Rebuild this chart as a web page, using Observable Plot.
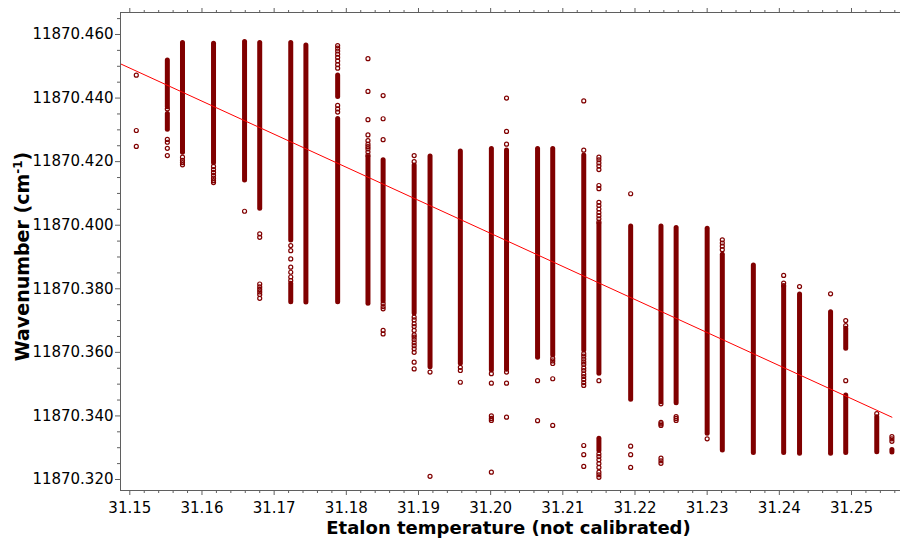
<!DOCTYPE html>
<html><head><meta charset="utf-8">
<script src="https://cdn.jsdelivr.net/npm/d3@7"></script>
<script src="https://cdn.jsdelivr.net/npm/@observablehq/plot@0.6"></script>
<style>body{margin:0;background:#fff}</style>
</head><body><div id="chart"></div>
<script>
// Etalon temperature values of the measurement columns
const temps = [31.1509, 31.1552, 31.1573, 31.1616, 31.1659, 31.1680, 31.1723, 31.1744,
  31.1788, 31.1830, 31.1851, 31.1894, 31.1916, 31.1958, 31.2001, 31.2022,
  31.2065, 31.2086, 31.2129, 31.2150, 31.2194, 31.2236, 31.2257, 31.2300,
  31.2321, 31.2364, 31.2406, 31.2428, 31.2471, 31.2492, 31.2535, 31.2556];

// Dense runs of points (column index, low wavenumber, high wavenumber)
const bandIdx = [1, 1, 2, 3, 4, 5, 6, 6, 7, 8, 8, 9, 10, 11, 12, 13, 14, 15, 16, 17, 18, 19, 19,
  20, 21, 22, 23, 24, 25, 26, 27, 28, 29, 29, 30, 31];
const bandLo = [11870.4371, 11870.4300, 11870.4228, 11870.4195, 11870.4141, 11870.4052, 11870.3952, 11870.3758,
  11870.3757, 11870.4403, 11870.3758, 11870.3753, 11870.3760, 11870.3722, 11870.3553, 11870.3564,
  11870.3543, 11870.3545, 11870.3583, 11870.3590, 11870.3606, 11870.3533, 11870.3290,
  11870.3451, 11870.3443, 11870.3440, 11870.3344, 11870.3291, 11870.3283, 11870.3283, 11870.3281,
  11870.3281, 11870.3611, 11870.3283, 11870.3286, 11870.3285];
const bandHi = [11870.4518, 11870.4350, 11870.4573, 11870.4571, 11870.4576, 11870.4573, 11870.4573, 11870.3816,
  11870.4565, 11870.4471, 11870.4334, 11870.4214, 11870.4204, 11870.4188, 11870.4216, 11870.4232,
  11870.4240, 11870.4235, 11870.4240, 11870.4240, 11870.4219, 11870.4004, 11870.3328,
  11870.3996, 11870.3996, 11870.3991, 11870.3989, 11870.3907, 11870.3873, 11870.3805, 11870.3782,
  11870.3726, 11870.3674, 11870.3464, 11870.3396, 11870.3293];

// Isolated points (column index, wavenumbers)
const isolated = [
  [0, [11870.4472, 11870.4298, 11870.4248]],
  [1, [11870.4366, 11870.4270, 11870.4261, 11870.4242, 11870.4219]],
  [2, [11870.4214, 11870.4204, 11870.4197, 11870.4190]],
  [3, [11870.4185, 11870.4175, 11870.4166, 11870.4157, 11870.4148, 11870.4140, 11870.4134]],
  [4, [11870.4044]],
  [5, [11870.3973, 11870.3962, 11870.3815, 11870.3806, 11870.3798, 11870.3790, 11870.3782, 11870.3770]],
  [6, [11870.3936, 11870.3920, 11870.3894, 11870.3868, 11870.3852, 11870.3837, 11870.3826]],
  [8, [11870.4565, 11870.4557, 11870.4548, 11870.4538, 11870.4528, 11870.4517, 11870.4505, 11870.4494, 11870.4377, 11870.4366, 11870.4356]],
  [9, [11870.4524, 11870.4421, 11870.4332, 11870.4284, 11870.4266, 11870.4255, 11870.4247, 11870.4240, 11870.4230, 11870.4220]],
  [10, [11870.4408, 11870.4335, 11870.4269, 11870.3753, 11870.3744, 11870.3737, 11870.3669, 11870.3658]],
  [11, [11870.4219, 11870.4200, 11870.3711, 11870.3702, 11870.3690, 11870.3681, 11870.3669, 11870.3655, 11870.3648, 11870.3640, 11870.3630, 11870.3621, 11870.3611, 11870.3600, 11870.3569, 11870.3548]],
  [12, [11870.3538, 11870.3210]],
  [13, [11870.3553, 11870.3543, 11870.3506]],
  [14, [11870.3533, 11870.3503, 11870.3400, 11870.3392, 11870.3386, 11870.3223]],
  [15, [11870.4400, 11870.4295, 11870.4255, 11870.3538, 11870.3503, 11870.3396]],
  [16, [11870.3511, 11870.3385]],
  [17, [11870.3581, 11870.3573, 11870.3565, 11870.3517, 11870.3370]],
  [18, [11870.4391, 11870.4236, 11870.3596, 11870.3588, 11870.3579, 11870.3570, 11870.3562, 11870.3551, 11870.3543, 11870.3532, 11870.3524, 11870.3515, 11870.3505, 11870.3496, 11870.3307, 11870.3278, 11870.3241]],
  [19, [11870.4214, 11870.4206, 11870.4196, 11870.4186, 11870.4175, 11870.4125, 11870.4115, 11870.4072, 11870.4062, 11870.4051, 11870.4040, 11870.4030, 11870.4020, 11870.4010, 11870.3511, 11870.3281, 11870.3272, 11870.3262, 11870.3250, 11870.3238, 11870.3223, 11870.3215, 11870.3207]],
  [20, [11870.4099, 11870.3305, 11870.3278, 11870.3238]],
  [21, [11870.3438, 11870.3380, 11870.3375, 11870.3370, 11870.3267, 11870.3259, 11870.3251]],
  [22, [11870.3398, 11870.3392, 11870.3386]],
  [23, [11870.3328]],
  [24, [11870.3954, 11870.3944, 11870.3934, 11870.3923]],
  [26, [11870.3842, 11870.3818, 11870.3810]],
  [27, [11870.3807]],
  [28, [11870.3784]],
  [29, [11870.3700, 11870.3684, 11870.3511]],
  [30, [11870.3407]],
  [31, [11870.3335, 11870.3328, 11870.3320]]
];

// Linear fit line endpoints
const fitTemp = [31.1487, 31.2556];
const fitWave = [11870.45078, 11870.3396];

// Axes
const xDomain = [31.14871, 31.25679];
const yDomain = [11870.31654, 11870.46692];
const xMajor = [31.15, 31.16, 31.17, 31.18, 31.19, 31.20, 31.21, 31.22, 31.23, 31.24, 31.25];
const xMinor = [31.152, 31.154, 31.156, 31.158, 31.162, 31.164, 31.166, 31.168, 31.172, 31.174, 31.176, 31.178,
  31.182, 31.184, 31.186, 31.188, 31.192, 31.194, 31.196, 31.198, 31.202, 31.204, 31.206, 31.208,
  31.212, 31.214, 31.216, 31.218, 31.222, 31.224, 31.226, 31.228, 31.232, 31.234, 31.236, 31.238,
  31.242, 31.244, 31.246, 31.248, 31.252, 31.254, 31.256];
const yMajor = [11870.32, 11870.34, 11870.36, 11870.38, 11870.40, 11870.42, 11870.44, 11870.46];
const yMinor = [11870.325, 11870.33, 11870.335, 11870.345, 11870.35, 11870.355, 11870.365, 11870.37, 11870.375,
  11870.385, 11870.39, 11870.395, 11870.405, 11870.41, 11870.415, 11870.425, 11870.43, 11870.435,
  11870.445, 11870.45, 11870.455, 11870.465];
const xTitle = "Etalon temperature (not calibrated)";
const yTitle = "Wavenumber (cm-1)";

const DOT = "#800000";
const AXIS = "#5f5f5f";

const bandRows = bandIdx.map((i, k) => ({t: temps[i], lo: bandLo[k], hi: bandHi[k]}));
const pointRows = isolated.flatMap(([i, ws]) => ws.map(w => ({t: temps[i], w})));
const fitRows = fitTemp.map((t, k) => ({t, w: fitWave[k]}));

const chart = Plot.plot({
  width: 901, height: 540,
  marginLeft: 120, marginRight: 1, marginTop: 12, marginBottom: 50,
  style: {fontFamily: "DejaVu Sans", fontSize: "15px", background: "white", color: "black"},
  x: {domain: xDomain},
  y: {domain: yDomain},
  marks: [
    Plot.ruleX(bandRows, {x: "t", y1: "lo", y2: "hi", stroke: DOT, strokeWidth: 5, strokeLinecap: "round"}),
    Plot.dot(pointRows, {x: "t", y: "w", r: 2, stroke: DOT, strokeWidth: 1.2, fill: "none"}),
    Plot.line(fitRows, {x: "t", y: "w", stroke: "#ff0000", strokeWidth: 1}),
    Plot.ruleX([xDomain[0]], {stroke: AXIS}),
    Plot.ruleY([yDomain[0]], {stroke: AXIS}),
    Plot.ruleY([yDomain[1]], {stroke: AXIS}),
    Plot.axisX(xMajor, {anchor: "bottom", tickSize: 5, tickPadding: 7, tickFormat: d3.format(".2f"), stroke: AXIS, fill: "black", label: null}),
    Plot.axisX(xMinor, {anchor: "bottom", tickSize: 3, tickFormat: () => "", stroke: AXIS, label: null}),
    Plot.axisX(xMajor, {anchor: "top", tickSize: 5, tickFormat: () => "", stroke: AXIS, label: null}),
    Plot.axisX(xMinor, {anchor: "top", tickSize: 3, tickFormat: () => "", stroke: AXIS, label: null}),
    Plot.axisY(yMajor, {anchor: "left", tickSize: 5, tickPadding: 2, tickFormat: d3.format(".3f"), stroke: AXIS, fill: "black", label: null}),
    Plot.axisY(yMinor, {anchor: "left", tickSize: 3, tickFormat: () => "", stroke: AXIS, label: null}),
    Plot.text([xTitle], {frameAnchor: "bottom", dy: 43, dx: -2, fontSize: 18, fontWeight: "bold", fill: "black"}),
    Plot.text([yTitle], {frameAnchor: "left", textAnchor: "middle", rotate: -90, dx: -98, dy: 5, fontSize: 19, fontWeight: "bold", fill: "black"})
  ]
});

// superscript for cm-1
chart.querySelectorAll("text").forEach(el => {
  if (el.textContent === yTitle) {
    const NS = "http://www.w3.org/2000/svg";
    while (el.firstChild) el.removeChild(el.firstChild);
    el.appendChild(document.createTextNode("Wavenumber (cm"));
    const sup = document.createElementNS(NS, "tspan");
    sup.setAttribute("dy", "-7");
    sup.setAttribute("font-size", "12");
    sup.textContent = "-1";
    el.appendChild(sup);
    const close = document.createElementNS(NS, "tspan");
    close.setAttribute("dy", "7");
    close.textContent = ")";
    el.appendChild(close);
  }
});

document.getElementById("chart").appendChild(chart);
</script>
</body></html>
